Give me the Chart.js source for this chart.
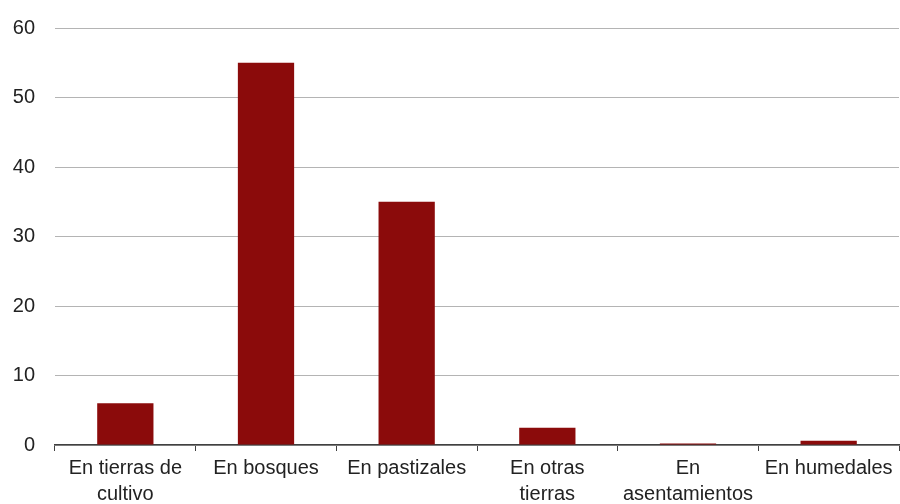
<!DOCTYPE html>
<html><head><meta charset="utf-8">
<script src="https://cdn.jsdelivr.net/npm/chart.js@4"></script>
<style>html,body{margin:0;padding:0;background:#fff}#w{width:900px;height:504px}</style>
</head><body><div id="w"><canvas id="c"></canvas></div>
<script>
const categories = [["En tierras de","cultivo"],"En bosques","En pastizales",["En otras","tierras"],["En","asentamientos"],"En humedales"];
const values = [6, 55, 35, 2.5, 0.2, 0.6];
const yTicks = [0, 10, 20, 30, 40, 50, 60];

new Chart(document.getElementById('c'), {
  type: 'bar',
  data: { labels: categories, datasets: [{ data: values, backgroundColor: '#8b0b0b', barPercentage: 0.8, categoryPercentage: 0.5 }] },
  options: {
    responsive: true, maintainAspectRatio: false, animation: false,
    layout: { padding: { top: 28, right: 1, left: 0, bottom: 0 } },
    plugins: { legend: { display: false }, tooltip: { enabled: false } },
    scales: {
      x: {
        grid: { drawOnChartArea: false, drawTicks: true, tickLength: 6, color: '#404040', offset: true },
        border: { color: '#404040', width: 1.5 },
        ticks: { color: '#222', font: { family: 'Liberation Sans, Arial', size: 20, lineHeight: 1.3 }, padding: 4, maxRotation: 0, autoSkip: false },
        afterFit: s => { s.height = 59; s.paddingLeft = 0; s.paddingRight = 0; }
      },
      y: {
        min: 0, max: 60,
        afterBuildTicks: s => { s.ticks = yTicks.map(v => ({ value: v })); },
        grid: { color: '#b4b4b4', drawTicks: false, lineWidth: 1 },
        border: { display: false },
        ticks: { color: '#222', font: { family: 'Liberation Sans, Arial', size: 20 }, padding: 20 },
        afterFit: s => { s.width = 55; s.paddingTop = 0; s.paddingBottom = 0; }
      }
    }
  }
});
</script>
</body></html>
